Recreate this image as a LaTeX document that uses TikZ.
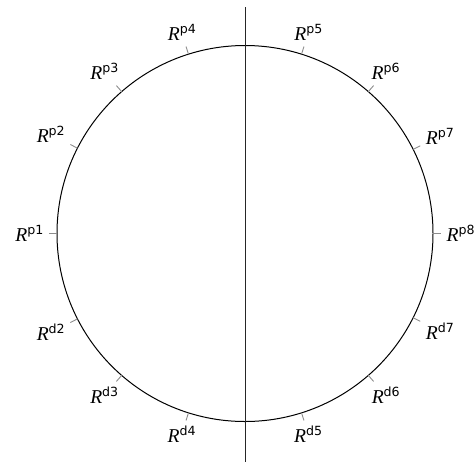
\documentclass[tikz,border=0pt]{standalone}
\usepackage{fontspec}
\setmainfont{Liberation Serif}
\newfontfamily\supfont{DejaVu Sans}
\usepackage{tikz}
\usetikzlibrary{calc}
\newcommand{\Rlab}[1]{\textit{R}\raisebox{3.6pt}{\fontsize{6.3}{7}\supfont #1}}

\begin{document}
\begin{tikzpicture}[
    x=0.5pt, y=0.5pt,
    ring/.style={draw=black, line width=0.5pt},
    axis/.style={draw=black!85, line width=0.5pt},
    tickmark/.style={draw=black!45, line width=0.45pt},
    rlabel/.style={font=\fontsize{9.8}{11}\selectfont, inner sep=2.6pt}
]
\useasboundingbox (-245,-228.5) rectangle (230,233.5);

%% Circle
\coordinate (C) at (0,0);
\draw[ring] (C) circle (188);

%% Dividing line
\coordinate (top) at (0,226.5);
\coordinate (bot) at (0,-228.5);
\draw[axis] (top) -- (bot);

%% Ticks and labels
\foreach \a/\n in {180/p1, 153/p2, 131/p3, 107.5/p4, 72.5/p5, 49/p6, 26.6/p7, 0/p8,
                   207/d2, 229/d3, 252.5/d4, 287.5/d5, 311/d6, 333.4/d7} {
  \coordinate (in\n)  at (\a:188);
  \coordinate (out\n) at (\a:196);
  \draw[tickmark] (in\n) -- (out\n);
  \pgfmathsetmacro{\anc}{\a+180}
  \node[rlabel, anchor=\anc] (lab\n) at (out\n) {\Rlab{\n}};
}

\end{tikzpicture}
\end{document}
